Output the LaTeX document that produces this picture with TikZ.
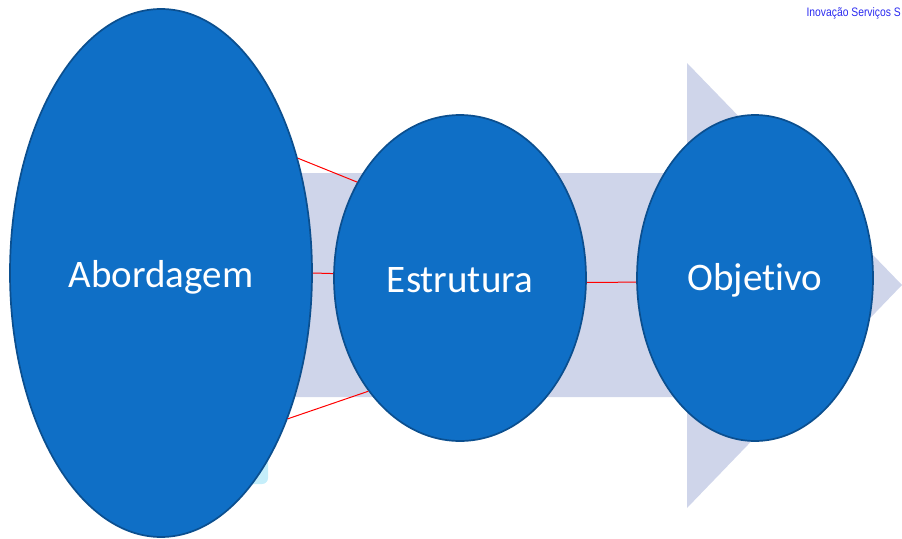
\documentclass[tikz,border=0pt]{standalone}
\usepackage{fontspec}
\setmainfont{Carlito}[Ligatures=NoCommon]
\newfontfamily\headfont[FakeStretch=0.84]{Liberation Sans}
\usetikzlibrary{shapes.geometric}
\definecolor{ellfill}{HTML}{0F6FC6}
\definecolor{elldraw}{HTML}{0B4F8F}
\definecolor{arrowfill}{HTML}{CFD5EA}
\definecolor{blobfill}{HTML}{C5EEFA}
\definecolor{headblue}{HTML}{2A2AF0}
\tikzset{
  bubble/.style={ellipse, fill=ellfill, draw=elldraw, line width=1.7pt, inner sep=0pt,
    text=white, font=\fontsize{39}{44}\selectfont},
  redlink/.style={draw=red, line width=1pt}
}
\begin{document}
\begin{tikzpicture}[x=1pt,y=-1pt]
\useasboundingbox (0,0) rectangle (902,538);
\clip (0,0) rectangle (902,538);
% big background arrow
\fill[arrowfill] (150,173) -- (687,173) -- (687,63) -- (902,285) -- (687,508) -- (687,397) -- (150,397) -- cycle;
% small light blob behind first ellipse
\fill[blobfill, rounded corners=6pt] (245,455) rectangle (268,484);
% ellipses
\node[bubble, minimum width=302pt, minimum height=528pt] (A) at (161,273) {\raisebox{-4pt}[\height][\depth]{Abordagem}};
\node[bubble, minimum width=252pt, minimum height=326pt] (E) at (460,278) {\raisebox{-2pt}[\height][\depth]{Estrutura}};
\node[bubble, minimum width=236pt, minimum height=326pt] (O) at (755,278) {\raisebox{-2pt}[\height][\depth]{Objetivo}};
% red connectors
\draw[redlink] (A.40) -- (E.137);
\draw[redlink] (A.0) -- (E.178);
\draw[redlink] (A.-49) -- (E.-129);
\draw[redlink] (E.-2) -- (O.182);
% header text
\node[anchor=east, inner sep=0pt, text=headblue, font=\headfont\fontsize{12.3}{14}\selectfont] (hdr) at (901,13) {Inovação Serviços S};
\end{tikzpicture}
\end{document}
